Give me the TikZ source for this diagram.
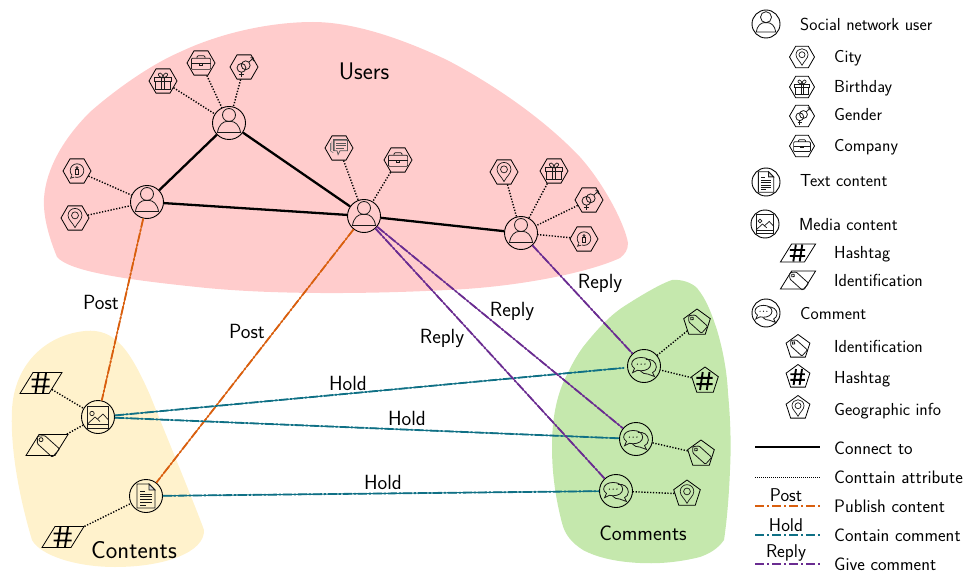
\documentclass[tikz,border=0pt]{standalone}
\usepackage{fontspec}
\usetikzlibrary{shapes.geometric}
\definecolor{pinkbg}{HTML}{FFCCCC}
\definecolor{yellowbg}{HTML}{FFF2CC}
\definecolor{greenbg}{HTML}{C5E8AD}
\definecolor{postc}{HTML}{D95F0E}
\definecolor{holdc}{HTML}{0F7085}
\definecolor{replyc}{HTML}{6A2C91}
\tikzset{
  x=1pt,y=-1pt,
  ic/.style={line width=.7pt,draw=black!90},
  ring/.style={circle,draw=black,line width=.9pt,minimum size=33pt,inner sep=0pt},
  lring/.style={circle,draw=black,line width=.9pt,minimum size=28pt,inner sep=0pt},
  hexn/.style={regular polygon,regular polygon sides=6,draw=black,line width=.8pt,minimum size=28pt,inner sep=0pt},
  lhexn/.style={hexn,minimum size=25pt},
  pentn/.style={regular polygon,regular polygon sides=5,draw=black,line width=.8pt,minimum size=28pt,inner sep=0pt},
  lpentn/.style={pentn,minimum size=25pt},
  paran/.style={rectangle,xslant=.62,transform shape,draw=black,line width=.8pt,minimum height=21pt,minimum width=29pt,inner sep=0pt},
  lparan/.style={paran,minimum height=18pt,minimum width=24pt},
  solidl/.style={line width=2.3pt,draw=black},
  dotl/.style={line width=1.4pt,draw=black,dash pattern=on 1.3pt off 1.6pt},
  postl/.style={draw=postc,line width=1.8pt,dash pattern=on 9pt off 2pt on 2pt off 2pt,preaction={draw=postc,line width=1.1pt,solid}},
  holdl/.style={draw=holdc,line width=1.8pt,dash pattern=on 9pt off 2pt on 2pt off 2pt,preaction={draw=holdc,line width=1.1pt,solid}},
  replyl/.style={draw=replyc,line width=1.8pt,dash pattern=on 9pt off 2pt on 2pt off 2pt,preaction={draw=replyc,line width=1.1pt,solid}},
  legpost/.style={draw=postc,line width=1.5pt,dash pattern=on 9pt off 3pt on 2pt off 3pt},
  legold/.style={draw=holdc,line width=1.5pt,dash pattern=on 9pt off 3pt on 2pt off 3pt},
  legreply/.style={draw=replyc,line width=1.5pt,dash pattern=on 9pt off 3pt on 2pt off 3pt},
  lab/.style={font=\fontsize{20.5}{24}\sffamily,inner sep=0pt,anchor=center},
  leg/.style={font=\fontsize{17.4}{20}\sffamily,inner sep=0pt,anchor=base west},
  legb/.style={font=\fontsize{18.1}{21}\sffamily,inner sep=0pt,anchor=base west},
  legt/.style={font=\fontsize{18.5}{22}\sffamily,inner sep=0pt},
  iconuser/.pic={
    \draw[ic,line width=.8pt] (0,-8) circle[radius=6.5];
    \draw[ic,line width=.8pt] (-11.5,9.5) .. controls (-10.5,2) and (-6,-1.5) .. (-2,-1.6) -- (2,-1.6) .. controls (6,-1.5) and (10.5,2) .. (11.5,9.5) -- cycle;
  },
  iconpin/.pic={
    \draw[ic] (0,-3) circle[radius=4];
    \draw[ic] (0,11) .. controls (-3,5) and (-8,2) .. (-8,-3) .. controls (-8,-8) and (-4,-11) .. (0,-11) .. controls (4,-11) and (8,-8) .. (8,-3) .. controls (8,2) and (3,5) .. (0,11) -- cycle;
  },
  icongift/.pic={
    \draw[ic,line width=.9pt] (-11,-4) rectangle (11,0);
    \draw[ic,line width=.9pt] (-9.5,0) rectangle (9.5,10);
    \draw[ic,line width=.9pt] (-1.5,-4) -- (-1.5,10) (1.5,-4) -- (1.5,10);
    \draw[ic] (0,-4) .. controls (-7,-5) and (-7,-10) .. (-3.5,-10) .. controls (-1.5,-10) and (0,-7) .. (0,-4) .. controls (0,-7) and (1.5,-10) .. (3.5,-10) .. controls (7,-10) and (7,-5) .. (0,-4);
  },
  icongender/.pic={
    \draw[ic,line width=.8pt] (-3,1) circle[radius=5.2];
    \draw[ic,line width=.8pt] (2,-2) circle[radius=5.2];
    \draw[ic,line width=.8pt] (-3,6.2) -- (-3,11.5) (-6,9) -- (0,9);
    \draw[ic,line width=.8pt] (5.8,-5.8) -- (11,-10.5) (7.5,-11) -- (11,-10.5) -- (11,-7);
  },
  iconcase/.pic={
    \draw[ic,rounded corners=1pt] (-12,-6) rectangle (12,8);
    \draw[ic] (-12,1) -- (-2,1) (2,1) -- (12,1);
    \draw[ic] (-2,0) rectangle (2,2.4);
    \draw[ic,rounded corners=1pt] (-5,-6) -- (-5,-9) -- (5,-9) -- (5,-6);
  },
  iconinfo/.pic={
    \draw[ic] (0,-.5) circle[radius=8.5];
    \draw[fill=pinkbg,draw=pinkbg] (-7,5) rectangle (-3,9);
    \draw[ic] (-6.5,5.5) -- (-8,9) -- (-3.5,7.7);
    \draw[ic] (-1.6,-1.5) -- (1.6,-1.5) -- (1.6,4.5) -- (-1.6,4.5) -- cycle;
    \draw[ic] (0,-4.2) circle[radius=1.4];
  },
  iconchat/.pic={
    \draw[line width=.6pt,draw=black!55] (-9,-5) -- (-9,3) -- (-6,5) (-7.5,-7) -- (-7.5,2);
    \draw[ic,draw=black!65] (-6,-9) rectangle (8,3);
    \draw[ic,draw=black!65,fill=pinkbg] (-5,-8) -- (9,-8) -- (9,3) -- (1,3) -- (-1,7) -- (-2,3) -- (-5,3) -- cycle;
    \draw[ic,draw=black!65] (-3,-5) -- (7,-5) (-3,-2.5) -- (7,-2.5) (-3,0) -- (5,0);
  },
  icondoc/.pic={
    \draw[ic,line width=.8pt] (-9,-12) -- (3,-12) -- (9,-6) -- (9,12) -- (-9,12) -- cycle;
    \draw[ic,line width=.8pt,fill=black!15] (3,-12) -- (3,-6) -- (9,-6) -- cycle;
    \draw[ic,line width=.8pt] (-6,-5) -- (-1,-5) (-6,-2) -- (6,-2) (-6,.8) -- (6,.8) (-6,3.5) -- (6,3.5) (-6,6.3) -- (6,6.3) (-6,9) -- (0,9);
  },
  iconimage/.pic={
    \draw[ic,line width=1pt] (-10.5,-11) rectangle (10.5,11);
    \draw[ic] (-10.5,7) -- (10.5,7);
    \draw[ic] (-6,-3.5) circle[radius=2.2];
    \draw[ic] (-10.5,7) -- (-3,0) -- (2,4.5) (-.5,2) -- (5,-3) -- (10.5,3);
  },
  iconhash/.pic={
    \draw[line width=1.9pt,draw=black] (-2.5,-10) -- (-5.5,10) (5,-10) -- (2,10) (-9.5,-3.5) -- (8.5,-3.5) (-9.5,3.5) -- (8.5,3.5);
  },
  icontag/.pic={
    \begin{scope}[rotate=-42]
      \draw[ic,line width=.8pt,rounded corners=1pt] (-13,0) -- (-8,-5.5) -- (12,-5.5) -- (12,5.5) -- (-8,5.5) -- cycle;
      \draw[ic,line width=.8pt] (-8,0) circle[radius=2];
    \end{scope}
  },
  iconcomment/.pic={
    \draw[ic,line width=.8pt] (2,-7) .. controls (8,-8) and (13,-4) .. (13,1) .. controls (13,4) and (11,6) .. (9,7) -- (11,11) -- (4,8.5) .. controls (1,8.5) and (-2,7.5) .. (-3.5,5.5);
    \draw[ic,line width=.8pt] (-3,-9) .. controls (3,-9) and (7,-6) .. (7,-2) .. controls (7,2) and (3,5) .. (-3,5) .. controls (-5,5) and (-6,5) .. (-7,4.5) -- (-12,7) -- (-10,2.5) .. controls (-12,1) and (-13,-.5) .. (-13,-2) .. controls (-13,-6) and (-9,-9) .. (-3,-9) -- cycle;
    \fill (-7,-2) circle[radius=.7] (-3,-2) circle[radius=.7] (1,-2) circle[radius=.7];
  },
}
\begin{document}
\begin{tikzpicture}
\useasboundingbox (0,0) rectangle (966,572);
% regions
\fill[pinkbg] (57,257) .. controls (48,235) and (43,215) .. (44,198) .. controls (46,170) and (62,140) .. (90,112) .. controls (115,90) and (150,65) .. (180,52) .. controls (220,33) and (270,22) .. (313,22) .. controls (355,22) and (405,40) .. (447,60) .. controls (495,85) and (545,120) .. (580,157) .. controls (605,185) and (625,225) .. (628,243) .. controls (628,250) and (625,254) .. (620,258) .. controls (590,272) and (520,287) .. (447,290) .. controls (370,294) and (270,295) .. (197,287) .. controls (130,280) and (70,272) .. (57,257) -- cycle;
\fill[yellowbg] (12,410) .. controls (14,365) and (45,335) .. (85,331) .. controls (115,328) and (130,350) .. (150,395) .. controls (170,445) and (195,505) .. (204,530) .. controls (205,552) and (165,567) .. (115,567) .. controls (75,567) and (40,555) .. (32,540) .. controls (20,500) and (10,450) .. (12,410) -- cycle;
\fill[greenbg] (552,447) .. controls (552,420) and (556,400) .. (563,383) .. controls (570,368) and (575,358) .. (583,347) .. controls (595,332) and (608,317) .. (623,307) .. controls (640,296) and (660,284) .. (672,280) .. controls (682,279) and (692,283) .. (697,288) .. controls (707,300) and (712,315) .. (717,330) .. controls (723,350) and (727,372) .. (728,393) .. controls (731,425) and (731,450) .. (730,470) .. controls (729,495) and (727,520) .. (724,540) .. controls (717,550) and (708,554) .. (700,557) .. controls (680,562) and (660,564) .. (640,563) .. controls (618,562) and (598,558) .. (583,550) .. controls (572,543) and (565,535) .. (562,523) .. controls (556,500) and (552,475) .. (552,447) -- cycle;
% users and attributes
\node[ring] (u1) at (147,202) {};
\node[ring] (u2) at (229,123) {};
\node[ring] (u3) at (364,216) {};
\node[ring] (u4) at (521,233) {};
\node[hexn] (a1) at (77,171) {};
\node[hexn] (a2) at (75,218) {};
\node[hexn] (a3) at (163,81) {};
\node[hexn] (a4) at (201,63) {};
\node[hexn] (a5) at (244,67) {};
\node[hexn] (a6) at (339,148) {};
\node[hexn] (a7) at (398,160) {};
\node[hexn] (a8) at (504,172) {};
\node[hexn] (a9) at (554,171) {};
\node[hexn] (a10) at (589,200) {};
\node[hexn] (a11) at (584,239) {};
% contents
\node[ring] (m1) at (98,417) {};
\node[ring] (d1) at (146,496) {};
\coordinate (ph1) at (41,383);
\coordinate (pt1) at (47,445);
\coordinate (ph2) at (63,537);
\node[paran] (h1) at (ph1) {};
\node[paran] (t1) at (pt1) {};
\node[paran] (h2) at (ph2) {};
% comments
\node[ring] (c1) at (644,366) {};
\node[ring] (c2) at (636,439) {};
\node[ring] (c3) at (616,491) {};
\node[pentn] (p1) at (697,323) {};
\node[pentn] (p2) at (705,381) {};
\node[pentn] (p3) at (701,454) {};
\node[pentn] (p4) at (687,494) {};
% connectors
\draw[solidl] (u1) -- (u2);
\draw[solidl] (u2) -- (u3);
\draw[solidl] (u1) -- (u3);
\draw[solidl] (u3) -- (u4);
\foreach \a/\b in {a1/u1,a2/u1,a3/u2,a4/u2,a5/u2,a6/u3,a7/u3,a8/u4,a9/u4,a10/u4,a11/u4,h1/m1,t1/m1,h2/d1,p1/c1,p2/c1,p3/c2,p4/c3}
  \draw[dotl] (\a) -- (\b);
\draw[postl] (u1) -- (m1);
\draw[postl] (u3) -- (d1);
\draw[holdl,shorten >=3pt] (m1) -- (c1);
\draw[holdl] (m1) -- (c2);
\draw[holdl] (d1) -- (c3);
\draw[replyl] (u4) -- (c1);
\draw[replyl] (u3) -- (c2);
\draw[replyl] (u3) -- (c3);
% icons in the diagram
\foreach \n in {u1,u2,u3,u4} \pic at (\n) {iconuser};
\pic[scale=.8] at (a1) {iconinfo};
\pic[scale=.87] at (a2) {iconpin};
\pic[scale=.8] at (a3) {icongift};
\pic[scale=.8] at (a4) {iconcase};
\pic[scale=.85] at (a5) {icongender};
\pic[scale=.95] at (a6) {iconchat};
\pic[scale=.8] at (a7) {iconcase};
\pic[scale=.87] at (a8) {iconpin};
\pic[scale=.8] at (a9) {icongift};
\pic[scale=.85] at (a10) {icongender};
\pic[scale=.8] at (a11) {iconinfo};
\pic at (m1) {iconimage};
\pic at (d1) {icondoc};
\pic at (h1) {iconhash};
\pic at (t1) {icontag};
\pic at (h2) {iconhash};
\foreach \n in {c1,c2,c3} \pic[scale=.95] at (\n) {iconcomment};
\pic[scale=.85] at (p1) {icontag};
\pic[scale=.9] at (p2) {iconhash};
\pic[scale=.85] at (p3) {icontag};
\pic[scale=.85] at (p4) {iconpin};
% region and connector labels
\node[font=\fontsize{24}{28}\sffamily,inner sep=0pt] (tusers) at (364,71) {Users};
\node[font=\fontsize{24.5}{28}\sffamily,inner sep=0pt] (tcontents) at (134,550) {Contents};
\node[font=\fontsize{21}{25}\sffamily,inner sep=0pt] (tcomments) at (643,533) {Comments};
\node[lab] (lp1) at (101,302) {Post};
\node[lab] (lp2) at (247,331) {Post};
\node[lab] (lh1) at (348,383) {Hold};
\node[lab] (lh2) at (407,418) {Hold};
\node[lab] (lh3) at (383,482) {Hold};
\node[lab] (lr1) at (600,283) {Reply};
\node[lab] (lr2) at (512,311) {Reply};
\node[lab] (lr3) at (442,338) {Reply};
% legend
\node[lring] (k1) at (766,24) {};
\pic[scale=.85] at (k1) {iconuser};
\node[leg] (x1) at (800,31) {Social network user};
\node[lhexn] (k2) at (802,57) {};
\pic[scale=.75] at (k2) {iconpin};
\node[leg] (x2) at (834,63) {City};
\node[lhexn] (k3) at (802,87) {};
\pic[scale=.7] at (k3) {icongift};
\node[leg] (x3) at (834,93) {Birthday};
\node[lhexn] (k4) at (802,116) {};
\pic[scale=.75] at (k4) {icongender};
\node[leg] (x4) at (834,121) {Gender};
\node[lhexn] (k5) at (802,146) {};
\pic[scale=.7] at (k5) {iconcase};
\node[leg] (x5) at (834,152) {Company};
\node[lring] (k6) at (766,182) {};
\pic[scale=.85] at (k6) {icondoc};
\node[leg] (x6) at (800,187) {Text content};
\node[lring] (k7) at (765,224) {};
\pic[scale=.85] at (k7) {iconimage};
\node[leg] (x7) at (799,230) {Media content};
\coordinate (pk8) at (798,253);
\coordinate (pk9) at (798,280);
\node[lparan] (k8) at (pk8) {};
\pic[scale=.85] at (k8) {iconhash};
\node[leg] (x8) at (834,258) {Hashtag};
\node[lparan] (k9) at (pk9) {};
\pic[scale=.85] at (k9) {icontag};
\node[leg] (x9) at (834,286) {Identification};
\node[lring] (k10) at (766,313) {};
\pic[scale=.85] at (k10) {iconcomment};
\node[leg] (x10) at (800,319) {Comment};
\node[lpentn] (k11) at (798,347) {};
\pic[scale=.75] at (k11) {icontag};
\node[leg] (x11) at (834,352) {Identification};
\node[lpentn] (k12) at (798,377) {};
\pic[scale=.8] at (k12) {iconhash};
\node[leg] (x12) at (834,383) {Hashtag};
\node[lpentn] (k13) at (798,408) {};
\pic[scale=.75] at (k13) {iconpin};
\node[leg] (x13) at (834,415) {Geographic info};
\coordinate (s1) at (755,447); \coordinate (e1) at (820,447);
\coordinate (s2) at (755,477); \coordinate (e2) at (820,477);
\coordinate (s3) at (755,506); \coordinate (e3) at (820,506);
\coordinate (s4) at (755,535); \coordinate (e4) at (820,535);
\coordinate (s5) at (755,564); \coordinate (e5) at (820,564);
\draw[solidl] (s1) -- (e1);
\draw[line width=.9pt,draw=black,dash pattern=on .9pt off 1.1pt] (s2) -- (e2);
\draw[legpost] (s3) -- (e3);
\draw[legold] (s4) -- (e4);
\draw[legreply] (s5) -- (e5);
\node[legb] (x14) at (834,454) {Connect to};
\node[legb] (x15) at (834,483) {Conttain attribute};
\node[legb] (x16) at (834,512) {Publish content};
\node[legb] (x17) at (834,541) {Contain comment};
\node[legb] (x18) at (834,570) {Give comment};
\node[legt] (y1) at (786,495) {Post};
\node[legt] (y2) at (786,525) {Hold};
\node[legt] (y3) at (786,553) {Reply};
\end{tikzpicture}
\end{document}
